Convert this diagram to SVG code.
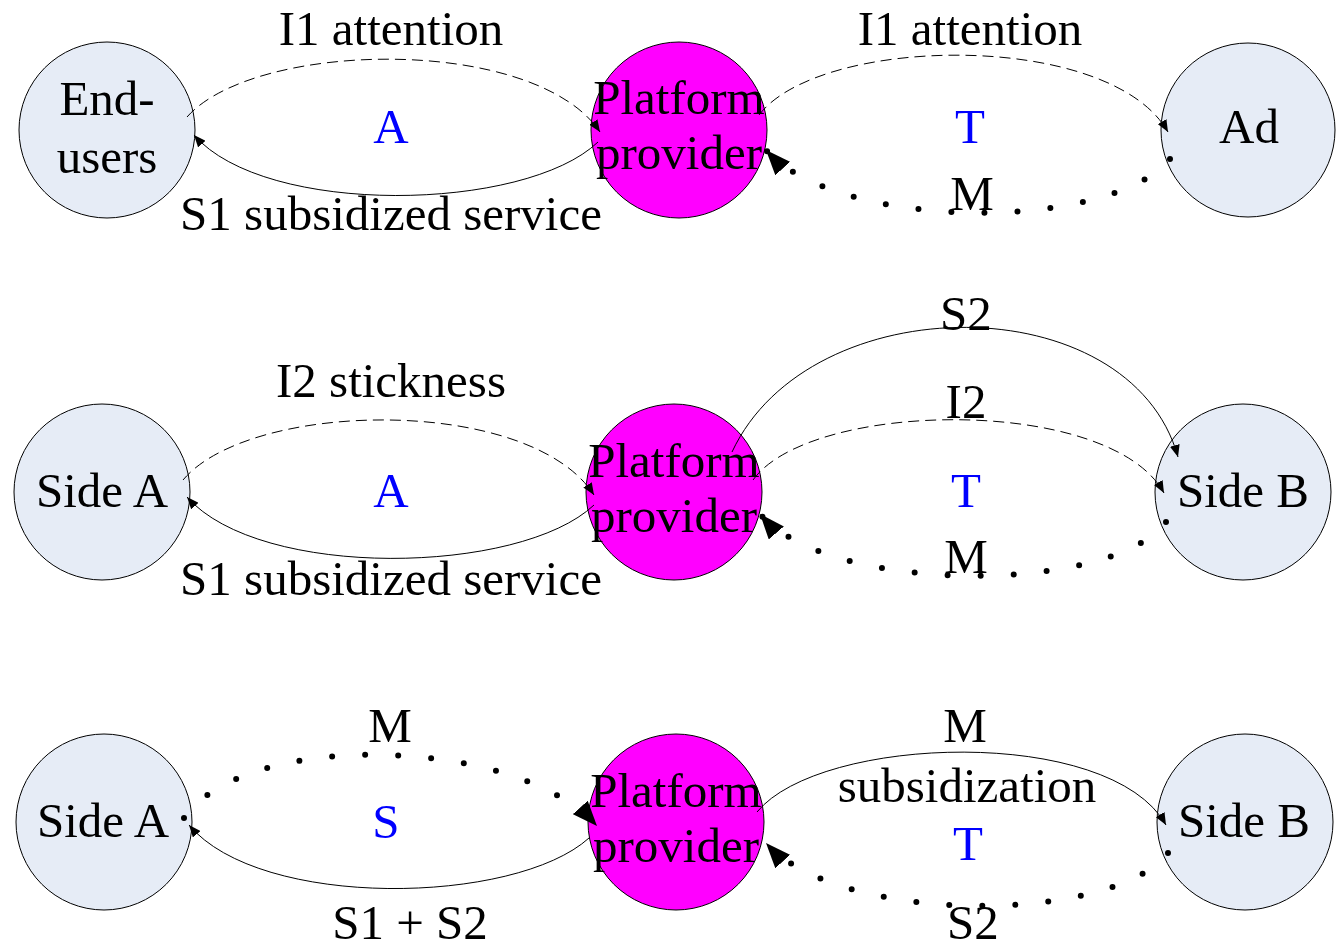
<svg xmlns="http://www.w3.org/2000/svg" width="1336" height="950" viewBox="0 0 1336 950">
  <style>
    .side { fill: #E6ECF6; stroke: #000; stroke-width: 1; }
    .plat { fill: #FF00FF; stroke: #000; stroke-width: 1; }
    text { font-family: "Liberation Serif", "Times New Roman", serif; font-size: 49px; fill: #000; text-anchor: middle; }
    text.blue { fill: #0000FF; }
    .solid { fill: none; stroke: #000; stroke-width: 1; marker-end: url(#arr); }
    .dash { fill: none; stroke: #000; stroke-width: 1; stroke-dasharray: 11 6; marker-end: url(#arr); }
    .dots { fill: none; stroke: #000; stroke-width: 6; stroke-linecap: round; stroke-dasharray: 0 33; marker-end: url(#arrBig); }
  </style>
  <defs>
    <marker id="arr" markerUnits="userSpaceOnUse" markerWidth="13" markerHeight="10" refX="12" refY="5" orient="auto">
      <path d="M0,0 L12,5 L0,10 z" fill="#000"/>
    </marker>
    <marker id="arrBig" markerUnits="userSpaceOnUse" markerWidth="26" markerHeight="20" refX="25" refY="10" orient="auto">
      <path d="M0,0 L25,10 L0,20 z" fill="#000"/>
    </marker>
  </defs>
  <rect width="1336" height="950" fill="#fff"/>

  <!-- Row 1: end-users / platform / advertisers -->
  <g id="end-users">
    <circle class="side" cx="107" cy="130" r="88"/>
    <text x="107" y="115">End-</text>
    <text x="107" y="173">users</text>
  </g>
  <g id="platform-1">
    <circle class="plat" cx="679" cy="130" r="88"/>
    <text x="679" y="114">Platform</text>
    <text x="679" y="169">provider</text>
  </g>
  <g id="ad">
    <circle class="side" cx="1248" cy="130" r="87"/>
    <text x="1249" y="143">Ad</text>
  </g>

  <!-- Row 2: side A / platform / side B -->
  <g id="side-a-2">
    <circle class="side" cx="102" cy="492" r="88"/>
    <text x="102" y="507">Side A</text>
  </g>
  <g id="platform-2">
    <circle class="plat" cx="674" cy="492" r="88"/>
    <text x="674" y="477">Platform</text>
    <text x="674" y="532">provider</text>
  </g>
  <g id="side-b-2">
    <circle class="side" cx="1243" cy="492" r="88"/>
    <text x="1243" y="507">Side B</text>
  </g>

  <!-- Row 3: side A / platform / side B -->
  <g id="side-a-3">
    <circle class="side" cx="104" cy="822" r="88"/>
    <text x="103" y="837">Side A</text>
  </g>
  <g id="platform-3">
    <circle class="plat" cx="676" cy="822" r="88"/>
    <text x="676" y="807">Platform</text>
    <text x="676" y="862">provider</text>
  </g>
  <g id="side-b-3">
    <circle class="side" cx="1245" cy="822" r="88"/>
    <text x="1244" y="837">Side B</text>
  </g>

  <!-- Connectors -->
  <g id="connectors">
    <!-- row 1 -->
    <path class="dash" d="M187,117 C255,40 535,35 600,132"/>
    <path class="solid" d="M598,142 C525,212 265,217 194,135"/>
    <path class="dash" d="M759,115 C820,35 1110,30 1168,132"/>
    <path class="dots" d="M1170,159 C1110,232 840,232 766,150"/>
    <!-- row 2 -->
    <path class="dash" d="M183,480 C250,400 530,395 594,495"/>
    <path class="solid" d="M594,505 C520,575 260,580 187,497"/>
    <path class="solid" d="M732,452 C810,285 1130,285 1178,457"/>
    <path class="dash" d="M753,480 C810,400 1110,395 1164,493"/>
    <path class="dots" d="M1166,522 C1110,595 830,595 760,514"/>
    <!-- row 3 -->
    <path class="dots" d="M184,818 C245,730 515,735 597,826"/>
    <path class="solid" d="M589,838 C515,905 260,910 189,825"/>
    <path class="solid" d="M757,812 C820,735 1110,725 1166,825"/>
    <path class="dots" d="M1168,853 C1110,925 840,925 766,843"/>
  </g>

  <!-- Labels -->
  <g id="labels">
    <text x="391" y="45">I1 attention</text>
    <text class="blue" x="391" y="143">A</text>
    <text x="391" y="230">S1 subsidized service</text>
    <text x="970" y="45">I1 attention</text>
    <text class="blue" x="970" y="143">T</text>
    <text x="972" y="210">M</text>

    <text x="391" y="397">I2 stickness</text>
    <text class="blue" x="391" y="507">A</text>
    <text x="391" y="595">S1 subsidized service</text>
    <text x="966" y="330">S2</text>
    <text x="966" y="418">I2</text>
    <text class="blue" x="966" y="507">T</text>
    <text x="966" y="573">M</text>

    <text x="390" y="742">M</text>
    <text class="blue" x="386" y="838">S</text>
    <text x="410" y="939">S1 + S2</text>
    <text x="965" y="742">M</text>
    <text x="967" y="802">subsidization</text>
    <text class="blue" x="968" y="860">T</text>
    <text x="973" y="939">S2</text>
  </g>
</svg>
